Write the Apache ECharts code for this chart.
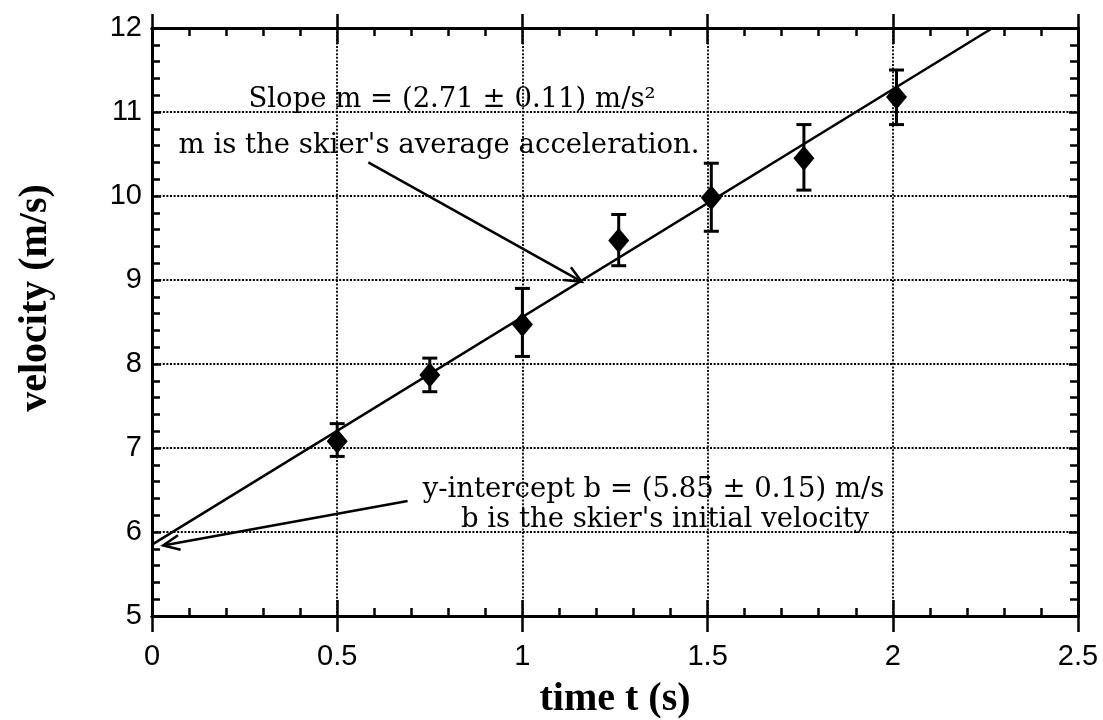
<!DOCTYPE html>
<html>
<head>
<meta charset="utf-8">
<script src="https://cdn.jsdelivr.net/npm/echarts@6/dist/echarts.min.js"></script>
<style>
  html, body { margin: 0; padding: 0; background: #fff; }
  #chart { width: 1103px; height: 720px; }
</style>
</head>
<body>
<div id="chart"></div>
<script>
// Axis ticks
const xTicks = [0, 0.5, 1, 1.5, 2, 2.5];
const yTicks = [5, 6, 7, 8, 9, 10, 11, 12];

// Measured skier velocities with uncertainty ranges
const times = [0.5, 0.75, 1.0, 1.26, 1.51, 1.76, 2.01];
const velocities = [7.08, 7.87, 8.47, 9.47, 9.98, 10.45, 11.18];
const errLow = [6.90, 7.67, 8.09, 9.17, 9.58, 10.07, 10.85];
const errHigh = [7.29, 8.07, 8.90, 9.78, 10.39, 10.85, 11.50];

// Least-squares fit v = b + m t
const slope = 2.71;
const intercept = 5.85;

// Annotation text
const noteText = [
  'Slope m = (2.71 \u00b1 0.11) m/s\u00b2',
  "m is the skier's average acceleration.",
  'y-intercept b = (5.85 \u00b1 0.15) m/s',
  "b is the skier's initial velocity"
];
const noteAnchors = [[0.81, 11.14], [0.775, 10.6], [1.354, 6.5], [1.385, 6.15]];

// Arrows from the notes to the fit line: [fromT, fromV, toT, toV]
const arrows = [
  [0.584, 10.40, 1.16, 8.98],
  [0.69, 6.37, 0.03, 5.84]
];

const xMin = xTicks[0], xMax = xTicks[xTicks.length - 1], xStep = xTicks[1] - xTicks[0];
const yMin = yTicks[0], yMax = yTicks[yTicks.length - 1], yStep = yTicks[1] - yTicks[0];

const fitLine = [[xMin, intercept], [(yMax - intercept) / slope, yMax]];
const points = times.map((t, i) => [t, velocities[i]]);
const bars = times.map((t, i) => [t, errLow[i], errHigh[i]]);

const labelFont = '"Liberation Sans", Arial, sans-serif';
const serif = '"Liberation Serif", "Times New Roman", serif';
const noteFont = '"DejaVu Serif", serif';

const gridDots = { color: '#000', width: 1.8, type: [2, 1.6] };

function xAxisCfg(extra) {
  return Object.assign({
    type: 'value', min: xMin, max: xMax, interval: xStep,
    axisLine: { show: true, onZero: false, lineStyle: { color: '#000', width: 3 } },
    axisTick: { show: true, inside: true, length: 16, lineStyle: { color: '#000', width: 2.5 } },
    minorTick: { show: true, splitNumber: 5, length: 8, lineStyle: { color: '#000', width: 2.5 } },
    axisLabel: { show: false },
    splitLine: { show: false }
  }, extra);
}
function yAxisCfg(extra) {
  return Object.assign({
    type: 'value', min: yMin, max: yMax, interval: yStep,
    axisLine: { show: true, onZero: false, lineStyle: { color: '#000', width: 3 } },
    axisTick: { show: true, inside: true, length: 9, lineStyle: { color: '#000', width: 2.5 } },
    minorTick: { show: true, splitNumber: 5, length: 8, lineStyle: { color: '#000', width: 2.5 } },
    axisLabel: { show: false },
    splitLine: { show: false }
  }, extra);
}

const chart = echarts.init(document.getElementById('chart'), null, { renderer: 'canvas' });

chart.setOption({
  animation: false,
  backgroundColor: '#fff',
  grid: { left: 152, right: 25, top: 28, bottom: 104, containLabel: false, outerBoundsMode: 'none' },
  xAxis: [
    xAxisCfg({
      position: 'bottom',
      name: 'time t (s)', nameLocation: 'middle', nameGap: 64,
      nameTextStyle: { fontFamily: serif, fontWeight: 'bold', fontSize: 40, color: '#000' },
      axisLabel: { show: true, margin: 26, fontFamily: labelFont, fontSize: 29, color: '#000' },
      splitLine: { show: true, lineStyle: gridDots }
    }),
    xAxisCfg({ position: 'bottom', axisTick: { show: true, inside: false, length: 16, lineStyle: { color: '#000', width: 2.5 } }, minorTick: { show: false } }),
    xAxisCfg({ position: 'top' }),
    xAxisCfg({ position: 'top', axisTick: { show: true, inside: false, length: 14, lineStyle: { color: '#000', width: 2.5 } }, minorTick: { show: false } })
  ],
  yAxis: [
    yAxisCfg({
      position: 'left',
      name: 'velocity (m/s)', nameLocation: 'middle', nameGap: 96, nameRotate: 90,
      nameTextStyle: { fontFamily: serif, fontWeight: 'bold', fontSize: 40, color: '#000', padding: [0, 0, 0, 48] },
      axisLabel: { show: true, margin: 10, fontFamily: labelFont, fontSize: 29, color: '#000' },
      splitLine: { show: true, lineStyle: gridDots }
    }),
    yAxisCfg({ position: 'right' })
  ],
  series: [
    {
      type: 'line', data: fitLine, symbol: 'none', silent: true,
      lineStyle: { color: '#000', width: 2.5 }, z: 3
    },
    {
      type: 'custom', data: bars, z: 4, silent: true,
      renderItem(params, api) {
        const t = api.value(0);
        const top = api.coord([t, api.value(2)]);
        const bot = api.coord([t, api.value(1)]);
        const w = 7.5;
        const st = { stroke: '#000', lineWidth: 3 };
        return {
          type: 'group', children: [
            { type: 'line', shape: { x1: top[0], y1: top[1], x2: bot[0], y2: bot[1] }, style: st },
            { type: 'line', shape: { x1: top[0] - w, y1: top[1], x2: top[0] + w, y2: top[1] }, style: st },
            { type: 'line', shape: { x1: bot[0] - w, y1: bot[1], x2: bot[0] + w, y2: bot[1] }, style: st }
          ]
        };
      }
    },
    {
      type: 'scatter', data: points, symbol: 'diamond', symbolSize: [21, 25], z: 5,
      itemStyle: { color: '#000', opacity: 1 }
    },
    {
      type: 'custom', data: arrows, z: 6, silent: true, clip: false,
      renderItem(params, api) {
        const a = api.coord([api.value(0), api.value(1)]);
        const b = api.coord([api.value(2), api.value(3)]);
        const ang = Math.atan2(b[1] - a[1], b[0] - a[0]);
        const len = 18, spread = 0.42;
        const h1 = [b[0] - len * Math.cos(ang - spread), b[1] - len * Math.sin(ang - spread)];
        const h2 = [b[0] - len * Math.cos(ang + spread), b[1] - len * Math.sin(ang + spread)];
        const st = { stroke: '#000', lineWidth: 2.5, fill: null };
        return {
          type: 'group', children: [
            { type: 'line', shape: { x1: a[0], y1: a[1], x2: b[0], y2: b[1] }, style: st },
            { type: 'polyline', shape: { points: [h1, b, h2] }, style: st }
          ]
        };
      }
    },
    {
      type: 'custom', data: noteAnchors.map((p, i) => [p[0], p[1], i]), z: 7, silent: true, clip: false,
      renderItem(params, api) {
        const p = api.coord([api.value(0), api.value(1)]);
        return {
          type: 'text', x: p[0], y: p[1],
          style: {
            text: noteText[api.value(2)], fill: '#000',
            font: '27.5px ' + noteFont, align: 'center', verticalAlign: 'middle'
          }
        };
      }
    }
  ]
});
</script>
</body>
</html>
